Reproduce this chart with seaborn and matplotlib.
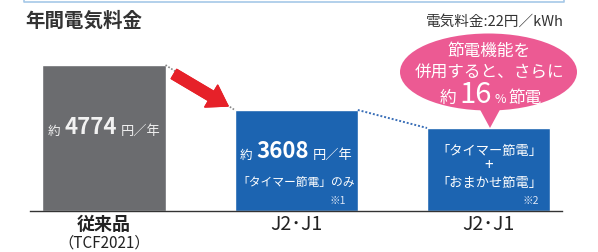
import matplotlib
matplotlib.use('Agg')
import matplotlib.pyplot as plt
import seaborn as sns
import pandas as pd
from matplotlib.patches import Ellipse, Polygon
from matplotlib.offsetbox import TextArea, HPacker, AnnotationBbox

# data
keys = ['old', 'j2j1_a', 'j2j1_b']
categories = ['従来品', 'J2･J1', 'J2･J1']
bar_heights = [4774, 3303, 2714]   # drawn heights (the diagram is not to scale)
yearly_cost = ['4774', '3608']
saving_pct = '16'
bar_colors = ['#6b6c6f', '#1c64b1', '#1c64b1']

sns.set_theme(style='white')
plt.rcParams['font.family'] = ['Noto Sans CJK JP', 'DejaVu Sans']

W, H = 598, 252
fig = plt.figure(figsize=(W / 100, H / 100), dpi=100)

def px(x, y):
    return (x / W, 1 - y / H)

ax = fig.add_axes([30 / W, 1 - 211 / H, (562 - 30) / W, (211 - 40) / H])
df = pd.DataFrame({'key': keys, 'val': bar_heights})
sns.barplot(data=df, x='key', y='val', hue='key', palette=bar_colors,
            width=0.64, ax=ax, legend=False, saturation=1)
ax.set_xlim(-0.385, 2.382)
ax.set_ylim(0, 5592)
for s in ['top', 'right', 'left']:
    ax.spines[s].set_visible(False)
ax.spines['bottom'].set_color('#333333')
ax.spines['bottom'].set_linewidth(1.0)
ax.set_yticks([])
ax.set_xlabel('')
ax.set_ylabel('')
ax.set_xticks(range(len(categories)))
ax.set_xticklabels(categories, fontsize=14, color='#222222')
ax.tick_params(axis='x', length=0, pad=2.5)
ax.get_xticklabels()[0].set_fontweight('bold')
ax.get_xticklabels()[0].set_fontsize(13)
fig.text(*px(104, 243.5), '（TCF2021）', ha='center', va='center', fontsize=11, color='#222222')

# dotted connectors between bar tops
hw = 0.32
ax.plot([0 + hw, 1 - hw], [bar_heights[0], bar_heights[1]], ls=(0, (1, 1)), color='#888888', lw=1.2)
ax.plot([1 + hw, 2 - hw], [bar_heights[1], bar_heights[2]], ls=(0, (1, 1)), color='#3a6fb8', lw=1.4)

# red arrow
fig.add_artist(plt.annotate('', xy=px(228, 106), xytext=px(174, 74), xycoords='figure fraction',
                            textcoords='figure fraction',
                            arrowprops=dict(arrowstyle='simple,head_length=1.0,head_width=1.3,tail_width=0.55',
                                            color='#e62129', mutation_scale=14, shrinkA=0, shrinkB=0)))

# header
fig.text(*px(25, 21), '年間電気料金', ha='left', va='center', fontsize=14, fontweight='bold', color='#333333')
fig.text(*px(564, 22), '電気料金:22円／kWh', ha='right', va='center', fontsize=10.5, color='#333333')
fig.add_artist(plt.Line2D([24 / W, 24 / W, 564 / W, 564 / W], [1, 1 - 1.5 / H, 1 - 1.5 / H, 1],
                          transform=fig.transFigure, color='#a6c8e8', lw=1.2))

def packed(parts, xy, color='white', sep=3):
    boxes = [TextArea(t, textprops=dict(color=color, fontsize=fs, fontweight=fw)) for t, fs, fw in parts]
    box = HPacker(children=boxes, align='baseline', pad=0, sep=sep)
    ab = AnnotationBbox(box, px(*xy), xycoords='figure fraction', frameon=False, box_alignment=(0.5, 0.5))
    fig.add_artist(ab)

packed([('約', 9, 'normal'), (yearly_cost[0], 16, 'bold'), ('円／年', 9.5, 'normal')], (104, 128), '#f2f2f2')
packed([('約', 9, 'normal'), (yearly_cost[1], 16, 'bold'), ('円／年', 9.5, 'normal')], (296, 152))
fig.text(*px(296, 182), '「タイマー節電」のみ', ha='center', va='center', fontsize=8.5, color='white')
fig.text(*px(346, 201), '※1', ha='right', va='center', fontsize=7.5, color='#dde6f5')

fig.text(*px(489, 152), '「タイマー節電」', ha='center', va='center', fontsize=9.5, color='white')
fig.text(*px(489, 166), '+', ha='center', va='center', fontsize=11, color='white')
fig.text(*px(489, 183), '「おまかせ節電」', ha='center', va='center', fontsize=9.5, color='white')
fig.text(*px(539, 201), '※2', ha='right', va='center', fontsize=7.5, color='#dde6f5')

# pink speech bubble
pink = '#ec5a93'
fig.add_artist(Ellipse(px(488.5, 72), 177 / W, 77 / H, transform=fig.transFigure, color=pink, lw=0))
fig.add_artist(Polygon([px(477, 104), px(503, 104), px(490, 128)], closed=True,
                       transform=fig.transFigure, color=pink, lw=0))
fig.text(*px(489, 52), '節電機能を', ha='center', va='center', fontsize=12, color='white')
fig.text(*px(489, 73), '併用すると、さらに', ha='center', va='center', fontsize=12, color='white')
packed([('約', 12, 'normal'), (saving_pct, 21, 'normal'), ('%', 9, 'normal'), ('節電', 12, 'normal')],
       (491, 95), sep=2)

fig.savefig('out.png', dpi=100)
